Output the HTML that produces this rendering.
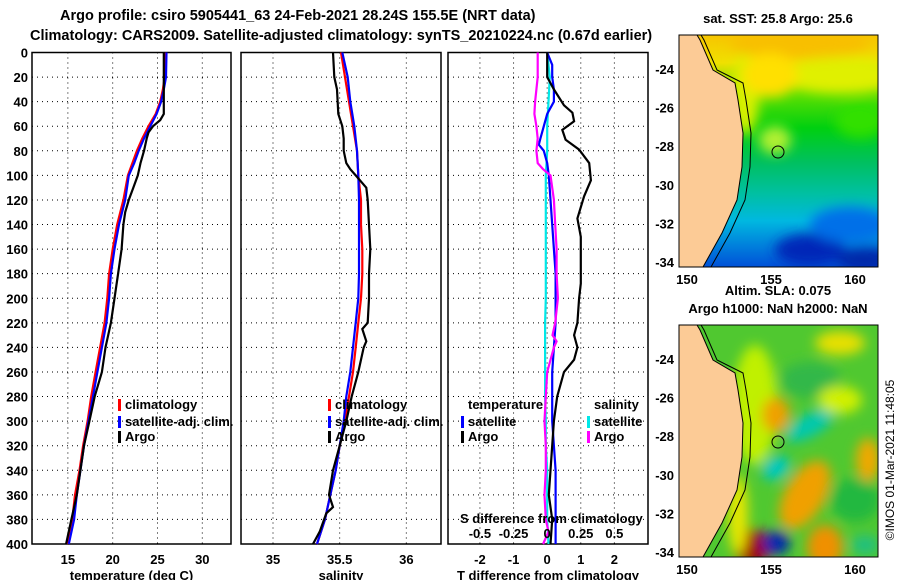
<!DOCTYPE html>
<html><head><meta charset="utf-8"><style>
body{margin:0;background:#fff;width:900px;height:580px;overflow:hidden}
svg{display:block}
text{font-family:"Liberation Sans",sans-serif;font-weight:bold;fill:#000}
</style></head><body>
<svg id="chart" width="900" height="580" xmlns="http://www.w3.org/2000/svg">
<defs>
<filter id="blur8" x="-50%" y="-50%" width="200%" height="200%"><feGaussianBlur stdDeviation="6"/></filter>
<clipPath id="clipTop"><rect x="679" y="35" width="199" height="232"/></clipPath>
<clipPath id="clipBot"><rect x="679" y="325" width="199" height="232"/></clipPath>
<linearGradient id="sstGrad" x1="0" y1="0" x2="0" y2="1">
<stop offset="0" stop-color="#f7c400"/><stop offset="0.12" stop-color="#f0e000"/>
<stop offset="0.25" stop-color="#60e000"/><stop offset="0.4" stop-color="#00d010"/>
<stop offset="0.55" stop-color="#00c060"/><stop offset="0.68" stop-color="#00c0a0"/>
<stop offset="0.8" stop-color="#00b8e0"/><stop offset="1" stop-color="#0050d8"/>
</linearGradient>
</defs>
<text x="60" y="20" font-size="14.5">Argo profile: csiro 5905441_63 24-Feb-2021 28.24S 155.5E (NRT data)</text>
<text x="30" y="40" font-size="14.5">Climatology: CARS2009. Satellite-adjusted climatology: synTS_20210224.nc (0.67d earlier)</text>
<g id="panels"></g>
<g id="maps"></g>
<text transform="translate(894,460) rotate(-90)" text-anchor="middle" font-size="12" style="font-weight:normal">©IMOS 01-Mar-2021 11:48:05</text>
</svg>
<script>
// ---- data ----
const depths = [0,20,40,60,80,100,120,140,160,180,200,220,240,260,280,300,320,340,360,380,400];
const depthTicks = [0,20,40,60,80,100,120,140,160,180,200,220,240,260,280,300,320,340,360,380,400];
const tempTicks = [15,20,25,30];
const salTicks = [35,35.5,36];
const salTickLabels = ["35","35.5","36"];
const tdTicks = [-2,-1,0,1,2];
const sdTicks = [-0.5,-0.25,0,0.25,0.5];
const sdTickLabels = ["-0.5","-0.25","0","0.25","0.5"];

const tempClimD = [0,20,30,40,50,60,70,80,90,100,120,140,160,180,200,220,240,260,280,300,320,340,360,380,400];
const tempClim = [25.9,25.8,25.6,25.3,24.8,24.0,23.3,22.7,22.2,21.7,21.2,20.5,20.0,19.6,19.4,19.1,18.6,18.1,17.6,17.2,16.7,16.3,15.8,15.5,14.9];
const tempSat  = [26.0,25.95,25.7,25.4,24.9,24.2,23.5,22.9,22.4,21.8,21.4,20.7,20.2,19.8,19.6,19.3,18.8,18.3,17.8,17.3,16.8,16.4,16.0,15.7,15.1];
const tempArgoD = [0,50,55,60,65,70,80,90,100,110,120,130,140,160,180,200,220,240,260,280,300,320,340,360,380,400];
const tempArgo = [25.7,25.7,25.3,24.5,24.0,23.8,23.5,23.1,22.8,22.3,21.8,21.4,21.2,21.0,20.6,20.2,19.8,19.2,18.8,18.0,17.4,16.8,16.4,16.0,15.4,14.8];

const salClim = [35.51,35.54,35.57,35.60,35.63,35.64,35.66,35.66,35.67,35.67,35.66,35.64,35.62,35.60,35.57,35.54,35.50,35.47,35.43,35.39,35.33];
const salSat  = [35.52,35.56,35.58,35.61,35.63,35.64,35.645,35.645,35.645,35.645,35.64,35.62,35.60,35.58,35.55,35.53,35.50,35.47,35.43,35.39,35.33];
const salArgoD = [0,20,30,50,60,70,80,90,95,100,110,120,140,160,180,200,220,225,235,240,260,280,300,320,340,360,370,375,390,400];
const salArgo = [35.45,35.46,35.48,35.49,35.52,35.53,35.53,35.55,35.58,35.62,35.70,35.71,35.72,35.73,35.72,35.72,35.71,35.67,35.70,35.68,35.64,35.59,35.55,35.50,35.45,35.42,35.45,35.40,35.35,35.30];

const tdSatD = [0,10,20,30,40,50,60,70,75,80,90,100,120,140,160,180,200,220,240,260,280,300,320,340,360,380,400];
const tdSat = [0.0,0.15,0.15,0.2,0.2,0.0,-0.1,-0.2,-0.25,-0.1,0.0,0.05,0.1,0.15,0.2,0.25,0.25,0.25,0.2,0.15,0.15,0.15,0.2,0.25,0.25,0.25,0.25];
const tdArgoD = [0,20,30,43,49,56,63,71,79,90,104,117,135,150,188,200,220,230,240,250,260,280,300,320,340,360,380,400];
const tdArgo = [0,0,0.2,0.5,0.75,0.8,0.45,0.55,0.95,1.25,1.3,1.1,0.9,1.0,1.0,0.95,0.9,0.8,0.9,0.8,0.5,0.3,0.2,0.15,0.1,0.05,0.15,0.1];
const sdSat = [0.0,0.02,0.01,0.0,0.0,-0.01,-0.01,-0.01,-0.01,-0.01,-0.01,-0.015,-0.015,-0.015,-0.015,-0.01,-0.01,0.0,0.0,0.0,0.01];
const sdArgoD = [0,20,40,50,60,70,80,90,95,100,120,140,160,180,200,220,230,235,240,260,280,300,320,340,360,380,390,400];
const sdArgo = [-0.07,-0.07,-0.09,-0.095,-0.08,-0.07,-0.08,-0.07,-0.03,0.025,0.05,0.06,0.07,0.07,0.08,0.06,0.04,0.07,0.05,0.0,-0.01,-0.02,-0.01,-0.01,-0.02,-0.01,0.01,-0.03];

const NS = "http://www.w3.org/2000/svg";
function el(tag, attrs, parent){const e=document.createElementNS(NS,tag);for(const k in attrs)e.setAttribute(k,attrs[k]);parent.appendChild(e);return e;}
const top0=52.5, bot0=544;
const yScale = d => top0 + (d/400)*(bot0-top0);
const panelsG = document.getElementById('panels');

function panel(name, x0, x1, vmin, vmax, ticks, tickLabels, xtitle, showY){
  const g = el('g',{},panelsG);
  
  
  const xs = v => x0 + (v-vmin)/(vmax-vmin)*(x1-x0);
  depthTicks.forEach(d=>{
    const l = el('line',{x1:x0,x2:x1,y1:yScale(d),y2:yScale(d),stroke:'#000','stroke-width':1,'stroke-dasharray':'1,4'},g);
    
    
    if(showY){
      const t = el('text',{x:x0-4,y:yScale(d)+5,'text-anchor':'end','font-size':13},g);
      
      
      t.textContent = d;
    }
  });
  ticks.forEach((v,i)=>{
    const l = el('line',{x1:xs(v),x2:xs(v),y1:top0,y2:bot0,stroke:'#000','stroke-width':1,'stroke-dasharray':'1,4'},g);
    
    
    const t = el('text',{x:xs(v),y:564,'text-anchor':'middle','font-size':13},g);
    
    
    t.textContent = tickLabels[i];
  });
  const r = el('rect',{x:x0,y:top0,width:x1-x0,height:bot0-top0,fill:'none',stroke:'#000','stroke-width':1.5},g);
  
  
  const at = el('text',{x:(x0+x1)/2,y:580,'text-anchor':'middle','font-size':13},g);
  
  
  at.textContent = xtitle;
  return {g, xs};
}
function series(p, ds, vs, color, name, xs){
  const pts = ds.map((d,i)=>(xs||p.xs)(vs[i]).toFixed(1)+','+yScale(d).toFixed(1)).join(' ');
  const pl = el('polyline',{points:pts,fill:'none',stroke:color,'stroke-width':2.2},p.g);
  
  
}
function legendItem(g, x, y, color, label, name){
  if(color){
    const b = el('rect',{x:x-7,y:y-10,width:3,height:12,fill:color},g);
    
    
  }
  const t = el('text',{x:x,y:y,'font-size':13},g);
  
  
  t.textContent = label;
}
const L1=409, L2=426, L3=441;

// Panel 1 temperature
const p1 = panel('temperature-panel',32,231,11,33.2,tempTicks,tempTicks.map(String),'temperature (deg C)',true);
series(p1,tempClimD,tempClim,'#ff0000','climatology-temp-line');
series(p1,tempClimD,tempSat,'#0000ff','satellite-temp-line');
series(p1,tempArgoD,tempArgo,'#000','argo-temp-line');
legendItem(p1.g,125,L1,'#ff0000','climatology','legend-climatology');
legendItem(p1.g,125,L2,'#0000ff','satellite-adj. clim.','legend-satellite');
legendItem(p1.g,125,L3,'#000','Argo','legend-argo');

// Panel 2 salinity
const p2 = panel('salinity-panel',241,441,34.76,36.26,salTicks,salTickLabels,'salinity',false);
series(p2,depths,salClim,'#ff0000','climatology-sal-line');
series(p2,depths,salSat,'#0000ff','satellite-sal-line');
series(p2,salArgoD,salArgo,'#000','argo-sal-line');
legendItem(p2.g,335,L1,'#ff0000','climatology','legend-climatology');
legendItem(p2.g,335,L2,'#0000ff','satellite-adj. clim.','legend-satellite');
legendItem(p2.g,335,L3,'#000','Argo','legend-argo');

// Panel 3 differences
const p3 = panel('difference-panel',448,648,-2.95,3.0,tdTicks,tdTicks.map(String),'T difference from climatology',false);
const sxs = v => p3.xs(v*4);
series(p3,depths,sdSat,'#00e8e8','salinity-sat-diff-line',sxs);
series(p3,tdSatD,tdSat,'#0000ff','temp-sat-diff-line');
series(p3,sdArgoD,sdArgo,'#ff00ff','salinity-argo-diff-line',sxs);
series(p3,tdArgoD,tdArgo,'#000','temp-argo-diff-line');
legendItem(p3.g,468,L1,null,'temperature','legend-temperature-heading');
legendItem(p3.g,468,L2,'#0000ff','satellite','legend-temp-satellite');
legendItem(p3.g,468,L3,'#000','Argo','legend-temp-argo');
legendItem(p3.g,594,L1,null,'salinity','legend-salinity-heading');
legendItem(p3.g,594,L2,'#00e8e8','satellite','legend-sal-satellite');
legendItem(p3.g,594,L3,'#ff00ff','Argo','legend-sal-argo');
legendItem(p3.g,460,523,null,'S difference from climatology','s-axis-title');
sdTicks.forEach((v,i)=>{
  const t = el('text',{x:sxs(v),y:538,'text-anchor':'middle','font-size':13},p3.g);
  
  
  t.textContent = sdTickLabels[i];
});

// ---- maps ----
const mapsG = document.getElementById('maps');
const lonTicks=[150,155,160];
const latTicks=[-24,-26,-28,-30,-32,-34];
const coast=[[697,0],[700,5],[713,35],[735,48],[738,65],[743,98],[742,132],[737,165],[722,198],[703,232]];
function drawMap(name, y0, clipId, blobs, baseFill, title, titleYs){
  const g = el('g',{},mapsG);
  
  
  const c = el('g',{'clip-path':'url(#'+clipId+')'},g);
  el('rect',{x:679,y:y0,width:199,height:232,fill:baseFill},c);
  const bg = el('g',{filter:'url(#blur8)'},c);
  blobs.forEach(b=>el('ellipse',{cx:b[0],cy:y0+b[1],rx:b[2],ry:b[3],fill:b[4],transform:'rotate('+(b[5]||0)+' '+b[0]+' '+(y0+b[1])+')'},bg));
  const land = [[679,y0]].concat(coast.map(p=>[p[0],y0+p[1]])).concat([[679,y0+232]]);
  const lp = el('polygon',{points:land.map(p=>p.join(',')).join(' '),fill:'#fccb96',stroke:'#000','stroke-width':1},c);
  
  
  const iso = el('polyline',{points:coast.map(p=>(p[0]+8+(p[1]<40?-4:0))+','+(y0+p[1])).join(' '),fill:'none',stroke:'#000','stroke-width':1},c);
  
  
  const ci = el('circle',{cx:778,cy:y0+117,r:6,fill:'none',stroke:'#000','stroke-width':1},g);
  
  
  const fr = el('rect',{x:679,y:y0,width:199,height:232,fill:'none',stroke:'#000','stroke-width':1},g);
  
  
  lonTicks.forEach(v=>{
    const x = 687+(v-150)*16.8;
    const t = el('text',{x:x,y:y0+249,'text-anchor':'middle','font-size':13},g);
    
    
    t.textContent = v;
  });
  latTicks.forEach(v=>{
    const y = y0+34+(-24-v)*19.3;
    const t = el('text',{x:674,y:y+5,'text-anchor':'end','font-size':13},g);
    
    
    t.textContent = v;
  });
  title.forEach((s,i)=>{
    const t = el('text',{x:778,y:titleYs[i],'text-anchor':'middle','font-size':13},g);
    
    
    t.textContent = s;
  });
}
drawMap('sst-map',35,'clipTop',[
  [800,8,70,16,'#f8bf00'],[840,40,60,18,'#e0f000'],[775,105,16,14,'#b0f030'],
  [745,60,14,40,'#d8f000'],[770,40,28,22,'#ffe000'],[860,85,25,18,'#30e000'],
  [810,215,35,16,'#0028b8'],[865,225,28,12,'#0028a8'],[850,190,40,18,'#0070e8']
],'url(#sstGrad)',['sat. SST: 25.8 Argo: 25.6'],[23]);
drawMap('sla-map',325,'clipBot',[
  [755,80,22,60,'#c0f000'],[810,55,30,18,'#30b848'],[840,18,25,12,'#e8e000'],
  [776,90,14,18,'#f0a000'],[810,100,28,11,'#00c8b0',-30],[776,143,15,11,'#00c8c0',-30],
  [805,170,20,38,'#f0a000',30],[868,135,12,22,'#f0a800'],[855,175,25,22,'#20b840'],
  [752,222,20,18,'#a00000'],[776,218,14,12,'#0020b0'],[825,222,18,22,'#f09000'],
  [865,220,14,10,'#20c080'],[738,190,10,40,'#e8e800'],[840,75,22,14,'#d0f000']
],'#50c830',['Altim. SLA: 0.075','Argo h1000: NaN h2000: NaN'],[295,313]);
</script>
</body></html>
